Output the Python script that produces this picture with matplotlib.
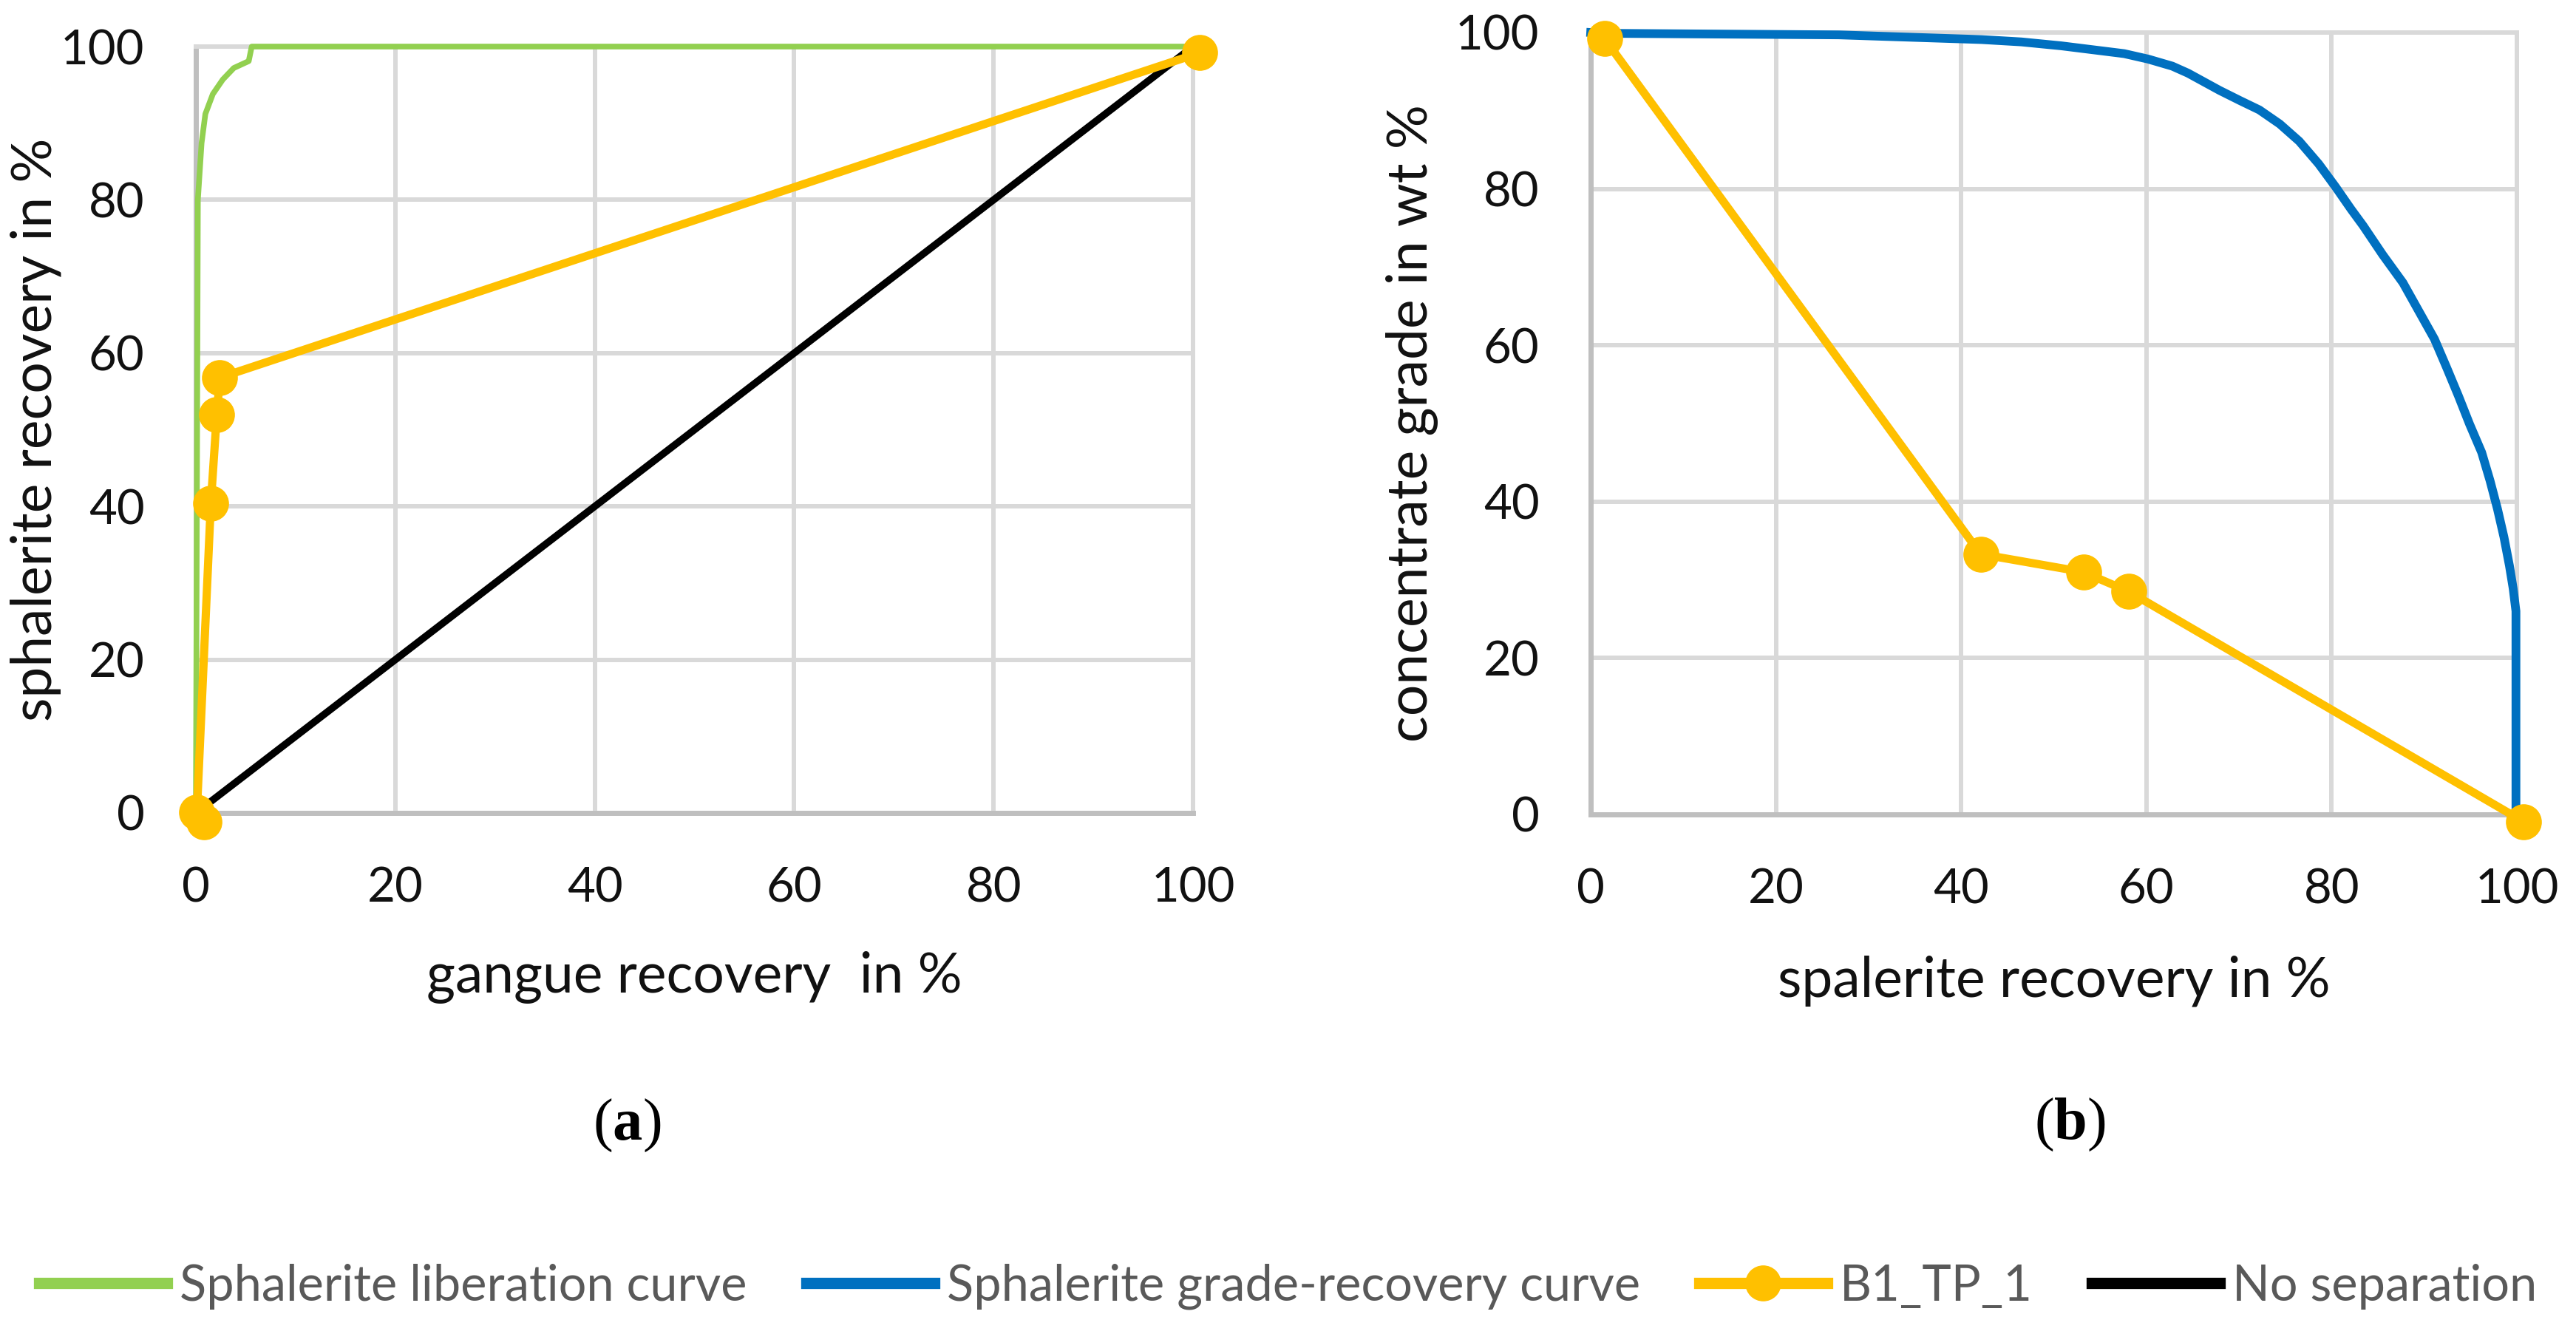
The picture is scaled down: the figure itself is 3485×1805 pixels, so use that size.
import matplotlib
matplotlib.use("Agg")
import matplotlib.pyplot as plt

plt.rcParams['font.family'] = ['Lato', 'DejaVu Sans']
plt.rcParams['mathtext.fontset'] = 'custom'
plt.rcParams['mathtext.rm'] = 'Liberation Serif'
plt.rcParams['mathtext.bf'] = 'Liberation Serif:bold'

# ---------------- data ----------------
# (a) recovery curves
lib_gangue = [0.0, 0.2, 0.57, 0.95, 1.7, 2.7, 3.8, 5.3, 5.6, 100.0]
lib_sphal = [0.0, 80.0, 87.4, 91.2, 93.8, 95.7, 97.2, 98.1, 100.0, 100.0]

b1_gangue = [0.8, 0.1, 1.5, 2.1, 2.4, 100.7]
b1_sphal = [-1.2, 0.1, 40.4, 52.0, 56.8, 99.2]

nosep_gangue = [0.0, 100.0]
nosep_sphal = [0.0, 100.0]

# (b) grade-recovery
gr_recovery = [0.0, 1.5, 26.8, 31.9, 42.2, 46.5, 50.8, 54.2, 57.6, 60.2, 62.8,
               64.5, 66.2, 67.9, 70.1, 72.2, 74.4, 76.5, 78.6, 80.4, 82.1,
               83.4, 85.5, 87.7, 89.4, 91.1, 92.4, 93.7, 94.9, 96.2, 97.1,
               97.9, 98.6, 99.2, 99.6, 99.9, 99.9]
gr_grade = [100.0, 99.9, 99.7, 99.5, 99.1, 98.8, 98.3, 97.8, 97.3, 96.6, 95.7,
            94.8, 93.7, 92.6, 91.3, 90.1, 88.3, 86.1, 83.2, 80.3, 77.4,
            75.3, 71.6, 68.0, 64.4, 60.8, 57.2, 53.5, 49.9, 46.3, 42.7,
            39.1, 35.5, 31.8, 28.9, 26.0, 0.0]

b1_recovery = [1.5, 42.1, 53.2, 58.1, 100.7]
b1_grade = [99.2, 33.3, 31.0, 28.5, -0.9]

ticks = [0, 20, 40, 60, 80, 100]

series_labels = ["Sphalerite liberation curve", "Sphalerite grade-recovery curve",
                 "B1_TP_1", "No separation"]
xlabels = ["gangue recovery  in %", "spalerite recovery in %"]
ylabels = ["sphalerite recovery in %", "concentrate grade in wt %"]
panel_labels = ["a", "b"]

# ---------------- style ----------------
GREEN = "#92D050"
BLUE = "#0070C0"
YELLOW = "#FFC000"
BLACK = "#000000"
GRID = "#D9D9D9"
AXIS = "#BFBFBF"

W, H = 3485, 1805
fig = plt.figure(figsize=(W / 100, H / 100), dpi=100)

ax1 = fig.add_axes([265 / W, 1 - 1100 / H, (1614 - 265) / W, (1100 - 63) / H])
ax2 = fig.add_axes([2152 / W, 1 - 1102 / H, (3405 - 2152) / W, (1102 - 44) / H])

h_green, = ax1.plot(lib_gangue, lib_sphal, color=GREEN, lw=5.5, zorder=3,
                    clip_on=False, label=series_labels[0])
h_black, = ax1.plot(nosep_gangue, nosep_sphal, color=BLACK, lw=7, zorder=4,
                    clip_on=False, label=series_labels[3])
h_yel, = ax1.plot(b1_gangue, b1_sphal, color=YELLOW, lw=8, marker='o', ms=34,
                  zorder=5, clip_on=False, label=series_labels[2])

h_blue, = ax2.plot(gr_recovery, gr_grade, color=BLUE, lw=8.5, zorder=3,
                   clip_on=False, label=series_labels[1],
                   solid_joinstyle='round')
ax2.plot(b1_recovery, b1_grade, color=YELLOW, lw=8, marker='o', ms=34,
         zorder=5, clip_on=False)

for i, ax in enumerate([ax1, ax2]):
    ax.set_xlim(0, 100)
    ax.set_ylim(0, 100)
    ax.set_xticks(ticks)
    ax.set_yticks(ticks)
    ax.set_axisbelow(True)
    ax.grid(True, color=GRID, lw=4.3)
    for s in ['top', 'right']:
        ax.spines[s].set_color(GRID)
        ax.spines[s].set_linewidth(4.3)
    for s in ['left', 'bottom']:
        ax.spines[s].set_color(AXIS)
        ax.spines[s].set_linewidth(5)
    ax.tick_params(axis='both', length=0, labelsize=47, colors='#111111')
    ax.tick_params(axis='x', pad=52)
    ax.tick_params(axis='y', pad=50)
    ax.set_xlabel(xlabels[i], fontsize=54, color='#111111')
    ax.set_ylabel(ylabels[i], fontsize=54, color='#111111')
    ax.xaxis.label.set_va('baseline')
    ax.yaxis.label.set_va('baseline')

ax1.xaxis.set_label_coords(0.5, (1100 - 1343) / 1037)
ax2.xaxis.set_label_coords(0.5, (1102 - 1348) / 1058)
ax1.yaxis.set_label_coords((70 - 265) / 1349, 0.5)
ax2.yaxis.set_label_coords((1931 - 2152) / 1253, 0.5)

fig.text(848 / W, 1 - 1523 / H, r"$\mathrm{(}\mathbf{" + panel_labels[0] + r"}\mathrm{)}$",
         ha='center', va='center', fontsize=58)
fig.text(2800 / W, 1 - 1522 / H, r"$\mathrm{(}\mathbf{" + panel_labels[1] + r"}\mathrm{)}$",
         ha='center', va='center', fontsize=58)

leg = fig.legend([h_green, h_blue, h_yel, h_black], series_labels,
                 loc='center', bbox_to_anchor=(0.5, 1 - 1741 / H), ncol=4,
                 frameon=False, fontsize=48, labelcolor='#595959',
                 handlelength=2.6, handletextpad=0.25, columnspacing=1.2)
for line in leg.get_lines():
    line.set_linewidth(11)

fig.savefig("out.png", dpi=100)
